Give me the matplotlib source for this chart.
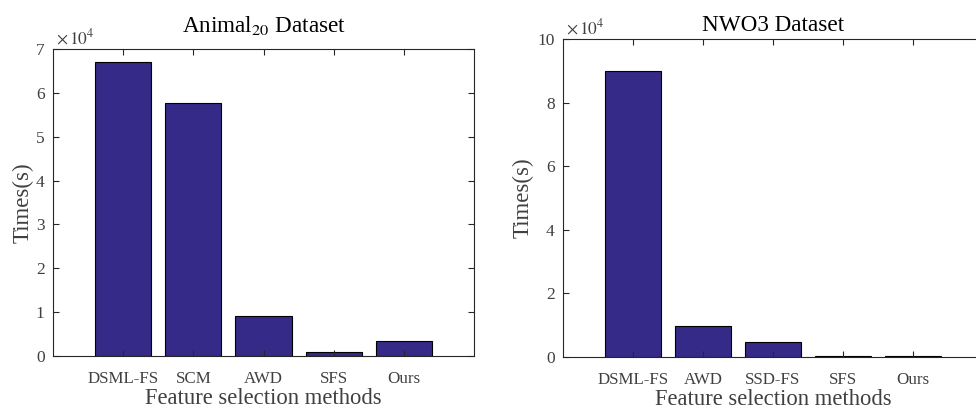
import matplotlib
matplotlib.use('Agg')
import matplotlib.pyplot as plt

# datos
animal_methods = ['DSML-FS', 'SCM', 'AWD', 'SFS', 'Ours']
animal_times = [67100, 57800, 9100, 1000, 3400]

nwo_methods = ['DSML-FS', 'AWD', 'SSD-FS', 'SFS', 'Ours']
nwo_times = [89900, 9650, 4600, 200, 400]

plt.rcParams['font.family'] = ['Liberation Serif', 'DejaVu Serif']
plt.rcParams['mathtext.fontset'] = 'stix'

grey = '#404040'
bar_color = '#352a87'

fig = plt.figure(figsize=(9.76, 4.12), dpi=100)
ax1 = fig.add_axes([53 / 976, 1 - 356 / 412, 421 / 976, 307 / 412])
ax2 = fig.add_axes([563 / 976, 1 - 357 / 412, 420 / 976, 318 / 412])


def draw(ax, methods, times, ymax, ticks, title, title_pad):
    x = range(1, len(methods) + 1)
    ax.bar(x, times, width=0.8, color=bar_color, edgecolor='black', linewidth=0.8)
    ax.set_xlim(0, 6)
    ax.set_ylim(0, ymax)
    ax.set_xticks(list(x))
    ax.set_xticklabels(methods)
    ax.set_yticks(ticks)
    ax.set_yticklabels([f'{t / 1e4:g}' for t in ticks])
    ax.tick_params(direction='in', top=True, right=True, length=4, width=0.8,
                   labelsize=12.5, labelcolor=grey, colors='#262626', pad=6)
    ax.tick_params(axis='x', pad=11, labelsize=12.2)
    for s in ax.spines.values():
        s.set_color('#262626')
        s.set_linewidth(0.8)
    # factor de escala como en MATLAB
    ax.text(0.008, 1.004, r'$\times\,10^4$', transform=ax.transAxes,
            fontsize=12.5, color=grey, va='bottom', ha='left')
    ax.set_title(title, fontsize=16.7, color='black', pad=title_pad)
    ax.set_xlabel('Feature selection methods', fontsize=16.3, color=grey)
    ax.set_ylabel('Times(s)', fontsize=16.5, color=grey)


draw(ax1, animal_methods, animal_times, 70000, [0, 10000, 20000, 30000, 40000, 50000, 60000, 70000],
     r'Animal$_{20}$ Dataset', 12)
draw(ax2, nwo_methods, nwo_times, 100000, [0, 20000, 40000, 60000, 80000, 100000], 'NWO3 Dataset', 6)

ax1.yaxis.set_label_coords(-0.047, 0.5)
ax2.yaxis.set_label_coords(-0.071, 0.5)
ax1.xaxis.set_label_coords(0.5, -0.104)
ax2.xaxis.set_label_coords(0.5, -0.1)

fig.savefig('out.png', dpi=100)
